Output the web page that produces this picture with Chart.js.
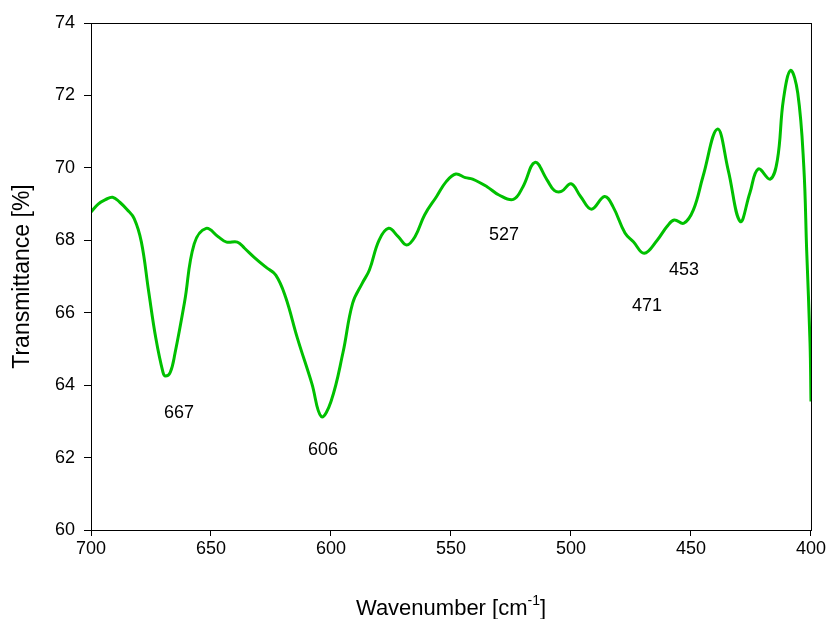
<!DOCTYPE html>
<html>
<head>
<meta charset="utf-8">
<script src="https://cdn.jsdelivr.net/npm/chart.js@4/dist/chart.umd.min.js"></script>
<style>
  html, body { margin: 0; padding: 0; background: #fff; }
  #wrap { width: 828px; height: 619px; }
</style>
</head>
<body>
<div id="wrap"><canvas id="irChart" width="828" height="619"></canvas></div>
<script>
// spectrum
const wavenumbers = [700, 697, 694, 691, 688, 685, 682, 679, 676, 673, 670, 669, 667, 665, 661, 657, 652, 647, 643.5, 639, 636, 632, 627, 623, 619, 614, 608, 604, 600, 595, 591, 587, 584, 580, 576, 572, 568.5, 565, 561, 556, 552, 548, 544, 541, 535, 530, 524, 520, 515, 510, 507, 504, 500, 496, 491.5, 486, 482.5, 477.5, 474, 469.5, 464, 460, 457, 453, 449, 445, 439, 434.5, 429.5, 425.5, 422, 417, 414, 411.5, 408.5, 405.5, 403, 401.8, 400.4, 400];
const transmittance = [68.78, 69.0, 69.12, 69.19, 69.05, 68.85, 68.6, 67.95, 66.6, 65.3, 64.35, 64.25, 64.35, 64.88, 66.3, 67.9, 68.33, 68.1, 67.95, 67.95, 67.78, 67.53, 67.25, 67.04, 66.45, 65.3, 64.05, 63.13, 63.55, 64.9, 66.26, 66.81, 67.18, 68.0, 68.33, 68.1, 67.87, 68.1, 68.7, 69.21, 69.62, 69.83, 69.73, 69.69, 69.48, 69.25, 69.13, 69.48, 70.15, 69.67, 69.38, 69.35, 69.56, 69.21, 68.86, 69.21, 68.93, 68.2, 67.96, 67.64, 68.01, 68.38, 68.56, 68.47, 68.84, 69.76, 71.07, 69.94, 68.52, 69.3, 69.97, 69.69, 70.22, 71.88, 72.69, 72.06, 70.04, 67.73, 65.17, 63.55];

const peakLabels = ['667', '606', '527', '471', '453'];
const peakX = [663.3, 603.3, 527.9, 468.3, 452.9];
const peakY = [63.23, 62.21, 68.15, 66.19, 67.18];

const xTicks = [700, 650, 600, 550, 500, 450, 400];
const yTicks = [60, 62, 64, 66, 68, 70, 72, 74];

const fontFamily = '"Liberation Sans", Arial, sans-serif';

const boxPlugin = {
    id: 'boxAndText',
    afterDraw(chart) {
        const { ctx, chartArea, scales } = chart;
        ctx.save();
        // frame
        ctx.strokeStyle = '#000';
        ctx.lineWidth = 1;
        ctx.strokeRect(chartArea.left + 0.5, chartArea.top + 0.5,
            chartArea.right - chartArea.left, chartArea.bottom - chartArea.top);

        // peak labels
        ctx.fillStyle = '#000';
        ctx.font = '18px ' + fontFamily;
        ctx.textAlign = 'center';
        ctx.textBaseline = 'middle';
        peakLabels.forEach((txt, i) => {
            ctx.fillText(txt, scales.x.getPixelForValue(peakX[i]), scales.y.getPixelForValue(peakY[i]));
        });

        // x title with superscript
        const cx = (chartArea.left + chartArea.right) / 2;
        const by = 615;
        ctx.textBaseline = 'alphabetic';
        ctx.textAlign = 'left';
        const a = 'Wavenumber [cm', sup = '-1', b = ']';
        ctx.font = '22px ' + fontFamily;
        const wa = ctx.measureText(a).width;
        const wb = ctx.measureText(b).width;
        ctx.font = '14px ' + fontFamily;
        const ws = ctx.measureText(sup).width;
        const x0 = cx - (wa + ws + wb) / 2;
        ctx.font = '22px ' + fontFamily;
        ctx.fillText(a, x0, by);
        ctx.font = '14px ' + fontFamily;
        ctx.fillText(sup, x0 + wa, by - 10);
        ctx.font = '22px ' + fontFamily;
        ctx.fillText(b, x0 + wa + ws, by);
        ctx.restore();
    }
};

new Chart(document.getElementById('irChart'), {
    type: 'line',
    data: {
        datasets: [{
            data: wavenumbers.map((w, i) => ({ x: w, y: transmittance[i] })),
            borderColor: '#00c000',
            borderWidth: 3,
            pointRadius: 0,
            fill: false,
            tension: 0.4
        }]
    },
    options: {
        responsive: false,
        animation: false,
        layout: { padding: { top: 23, right: 17, left: 0, bottom: 0 } },
        plugins: {
            legend: { display: false },
            tooltip: { enabled: false }
        },
        scales: {
            x: {
                type: 'linear',
                reverse: true,
                min: 400,
                max: 700,
                afterBuildTicks: scale => { scale.ticks = xTicks.map(v => ({ value: v })); },
                afterFit: scale => { scale.height = 89; },
                grid: { drawOnChartArea: false, drawTicks: true, tickLength: 6, color: '#000' },
                border: { color: '#000' },
                ticks: { color: '#000', font: { size: 18, family: fontFamily }, padding: 2, maxRotation: 0 }
            },
            y: {
                min: 60,
                max: 74,
                afterBuildTicks: scale => { scale.ticks = yTicks.map(v => ({ value: v })); },
                afterFit: scale => { scale.width = 91; },
                grid: { drawOnChartArea: false, drawTicks: true, tickLength: 7, color: '#000' },
                border: { color: '#000' },
                ticks: { color: '#000', font: { size: 18, family: fontFamily }, padding: 9 },
                title: {
                    display: true,
                    text: 'Transmittance [%]',
                    color: '#000',
                    font: { size: 23, family: fontFamily },
                    padding: { top: 9, bottom: 0 }
                }
            }
        }
    },
    plugins: [boxPlugin]
});
</script>
</body>
</html>
